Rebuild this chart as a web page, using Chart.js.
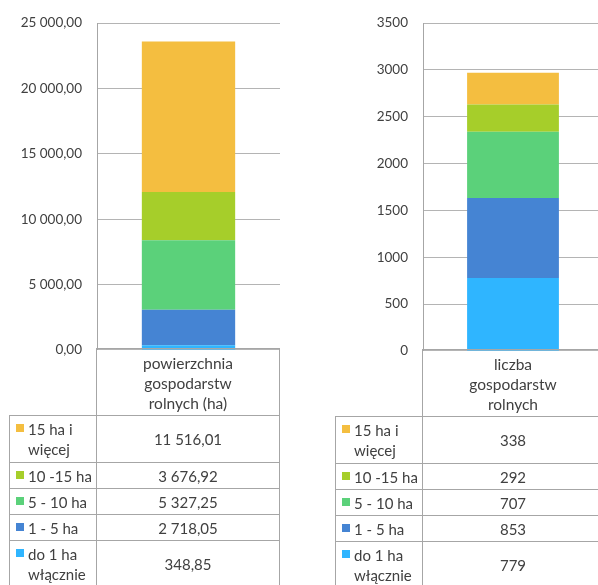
<!DOCTYPE html>
<html>
<head>
<meta charset="utf-8">
<script src="https://cdn.jsdelivr.net/npm/chart.js@4.4.0/dist/chart.umd.min.js"></script>
<style>
    html, body { margin: 0; padding: 0; width: 598px; height: 585px; overflow: hidden; background: #fff; }
    body { position: relative; font-family: Lato, sans-serif; color: #404040; }
    canvas { position: absolute; }
    .cell { position: absolute; box-sizing: border-box; border: 1px solid #A6A6A6; font-size: 15px; line-height: 20px; }
    .head { text-align: center; padding-top: 4px; font-size: 15.5px; }
    .val { display: flex; align-items: center; justify-content: center; }
    .lab { display: flex; align-items: center; }
    .lab .sq { position: absolute; left: 6px; top: 8px; width: 8px; height: 8px; }
    .lab .tx { margin-left: 18px; width: 68px; }
</style>
</head>
<body>
<canvas id="areaChart" width="281" height="373" style="left:0;top:0"></canvas>
<canvas id="countChart" width="284" height="374" style="left:320px;top:0"></canvas>
<div id="tables"></div>
<script>
// series, bottom of the stack first
const sizeGroups = ['do 1 ha włącznie', '1 - 5 ha', '5 - 10 ha', '10 -15 ha', '15 ha i więcej'];
const groupColors = ['#2FB5FF', '#4584D3', '#5BD17A', '#A6CE2A', '#F4BE40'];
const areaValues = [348.85, 2718.05, 5327.25, 3676.92, 11516.01];
const countValues = [779, 853, 707, 292, 338];
const areaCategory = ['powierzchnia', 'gospodarstw', 'rolnych (ha)'];
const countCategory = ['liczba', 'gospodarstw', 'rolnych'];
const areaTicks = [0, 5000, 10000, 15000, 20000, 25000];
const countTicks = [0, 500, 1000, 1500, 2000, 2500, 3000, 3500];

//polish number format: space for thousands, comma for decimals
function fmt(v, dec, groupThousands) {
    let parts = v.toFixed(dec).split('.');
    let int = parts[0];
    if (groupThousands) int = int.replace(/\B(?=(\d{3})+(?!\d))/g, ' ');
    return parts.length > 1 ? int + ',' + parts[1] : int;
}

function makeChart(id, category, values, ticks, yWidth, tickFmt) {
    return new Chart(document.getElementById(id), {
        type: 'bar',
        data: {
            labels: [category],
            datasets: sizeGroups.map((g, i) => ({
                label: g,
                data: [values[i]],
                backgroundColor: groupColors[i],
                borderWidth: 0,
                barPercentage: 1,
                categoryPercentage: 0.51
            }))
        },
        options: {
            responsive: false,
            animation: false,
            layout: { padding: { top: 22, bottom: 21, right: 1 } },
            scales: {
                x: { stacked: true, display: false },
                y: {
                    stacked: true,
                    min: ticks[0],
                    max: ticks[ticks.length - 1],
                    afterBuildTicks: s => { s.ticks = ticks.map(v => ({ value: v })); },
                    afterFit: s => { s.width = yWidth; },
                    grid: { color: '#B4B4B4', drawTicks: false },
                    border: { color: '#A6A6A6' },
                    ticks: {
                        padding: 15,
                        color: '#404040',
                        font: { family: 'Lato', size: 13.5 },
                        callback: tickFmt
                    }
                }
            },
            plugins: { legend: { display: false }, tooltip: { enabled: false } }
        }
    });
}

makeChart('areaChart', areaCategory, areaValues, areaTicks, 97, v => fmt(v, 2, true));
makeChart('countChart', countCategory, countValues, countTicks, 103, v => fmt(v, 0, false));

//data table under each chart, largest group on top
const tables = document.getElementById('tables');
function cell(cls, x, y, w, h, html) {
    const d = document.createElement('div');
    d.className = 'cell ' + cls;
    d.style.cssText = `left:${x}px;top:${y}px;width:${w}px;height:${h}px`;
    d.innerHTML = html;
    tables.appendChild(d);
}
function buildTable(x0, x1, x2, rows, category, values, valFmt) {
    cell('head', x1, rows[0], x2 - x1, rows[1] - rows[0] + 1, category.join('<br>'));
    for (let r = 1; r < rows.length - 1; r++) {
        const i = sizeGroups.length - r;
        const h = rows[r + 1] - rows[r] + 1;
        cell('lab', x0, rows[r], x1 - x0 + 1, h,
            `<span class="sq" style="background:${groupColors[i]}"></span><span class="tx">${sizeGroups[i]}</span>`);
        cell('val', x1, rows[r], x2 - x1, h, valFmt(values[i]));
    }
}
buildTable(9, 96, 280, [348, 415, 462, 488, 514, 540, 587], areaCategory, areaValues, v => fmt(v, 2, true));
buildTable(335, 422, 604, [349, 416, 463, 489, 515, 541, 588], countCategory, countValues, v => fmt(v, 0, false));
</script>
</body>
</html>
